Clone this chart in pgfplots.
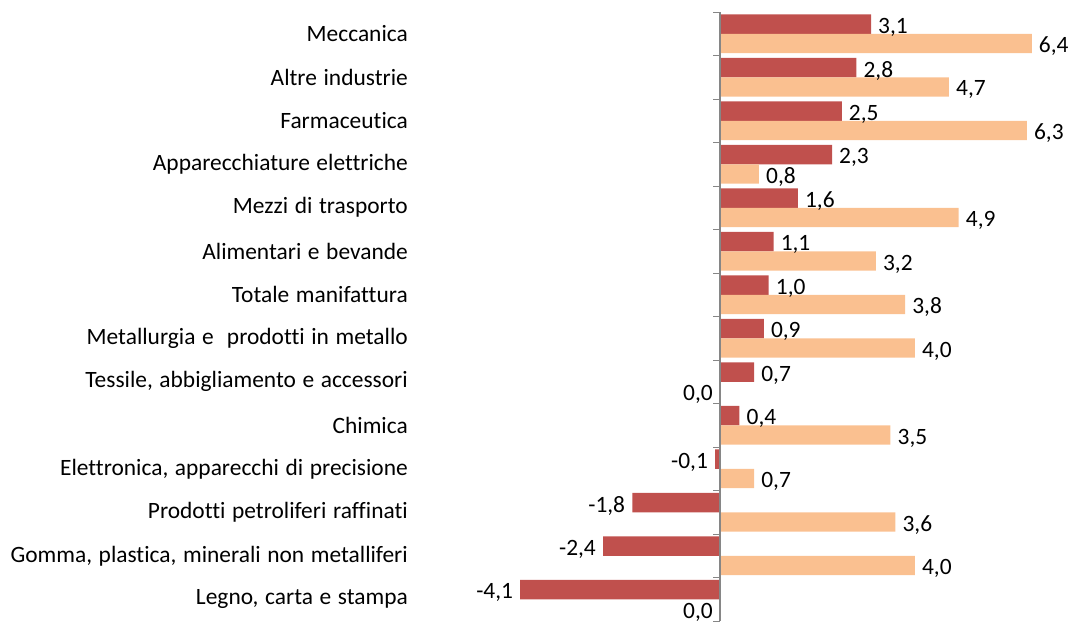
\documentclass[border=0pt]{standalone}
\usepackage{fontspec}
\setmainfont{Carlito}[Ligatures={NoCommon}, WordSpace=1.25]
\usepackage{pgfplots}
\pgfplotsset{compat=1.18}
\definecolor{cred}{HTML}{C0504D}
\definecolor{corange}{HTML}{FAC090}
\definecolor{caxis}{HTML}{868686}

\begin{document}
\begin{tikzpicture}
\begin{axis}[name=ax, scale only axis, width=646bp, height=609bp,
 xmin=-6.26, xmax=7, ymin=-0.5, ymax=13.5, y dir=reverse,
 xbar, bar width=19.3bp, clip=false,
 axis line style={draw=none}, xtick=\empty, ytick={0,...,13}, major tick length=0,
 yticklabels={{Meccanica},{Altre industrie},{Farmaceutica},{Apparecchiature elettriche},{Mezzi di trasporto},{Alimentari e bevande\ },{Totale manifattura\ },{Metallurgia e \ prodotti in metallo\ },{Tessile, abbigliamento e accessori},{Chimica\ },{Elettronica, apparecchi di precisione},{Prodotti petroliferi raffinati},{Gomma, plastica, minerali non metalliferi},{Legno, carta e stampa}},
 yticklabel style={font=\fontsize{23.5}{27}\selectfont, text=black, inner xsep=7bp},
 nodes near coords,
 nodes near coords style={font=\fontsize{23.5}{27}\selectfont, text=black, inner xsep=7bp, yshift=-3bp},
 /pgf/number format/.cd, use comma, fixed, fixed zerofill, precision=1, assume math mode=true
]
% first series (red)
\addplot[fill=cred, draw=none, bar shift=9.65bp] table[x=v, y=i] {
i v
0 3.1
1 2.8
2 2.5
3 2.3
4 1.6
5 1.1
6 1.0
7 0.9
8 0.7
9 0.4
10 -0.1
11 -1.8
12 -2.4
13 -4.1
};
% second series (orange), non-zero values
\addplot[fill=corange, draw=none, bar shift=-9.65bp] table[x=v, y=i] {
i v
0 6.4
1 4.7
2 6.3
3 0.8
4 4.9
5 3.2
6 3.8
7 4.0
9 3.5
10 0.7
11 3.6
12 4.0
};
% second series (orange), zero values
\addplot[fill=corange, draw=none, bar shift=-9.65bp,
  every node near coord/.append style={anchor=east}] table[x=v, y=i] {
i v
8 0.0
13 0.0
};
\draw[caxis, line width=1.2bp] (axis cs:0,-0.5) -- (axis cs:0,13.5);
\pgfplotsinvokeforeach{-0.5,0.5,...,13.5}{
  \draw[caxis, line width=1bp] (axis cs:0,#1) -- ([xshift=-7bp]axis cs:0,#1);
}
\end{axis}
\pgfresetboundingbox
\path ([xshift=-415bp]ax.south west) rectangle ([xshift=14bp,yshift=12bp]ax.north east);
\end{tikzpicture}
\end{document}
